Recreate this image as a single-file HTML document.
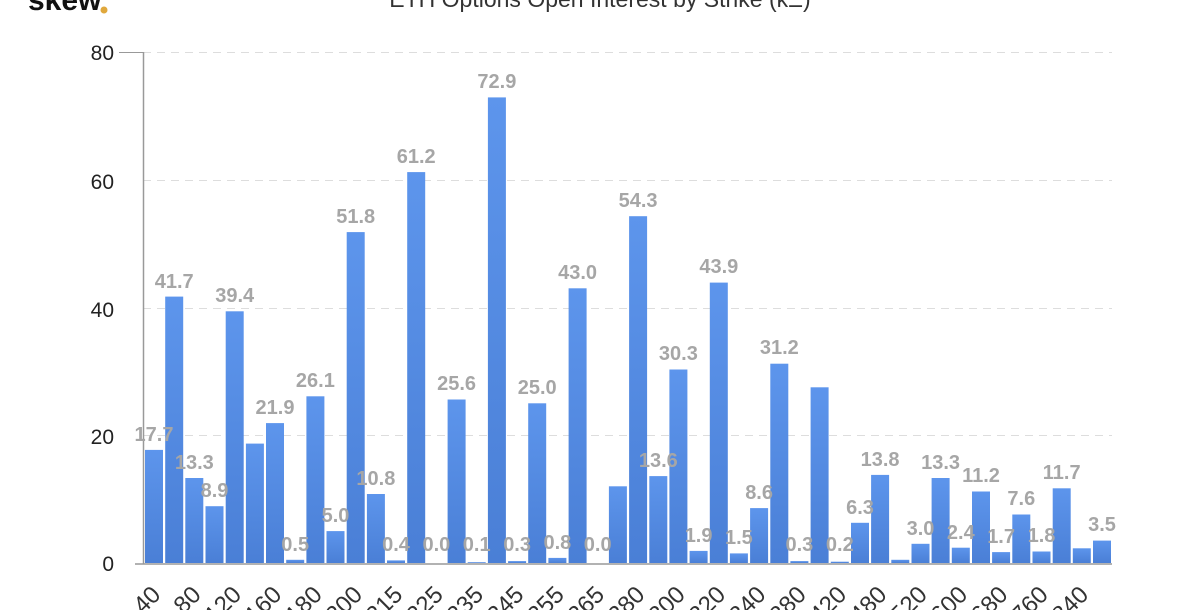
<!DOCTYPE html>
<html><head><meta charset="utf-8"><style>
html,body{margin:0;padding:0;background:#fff;width:1200px;height:610px;overflow:hidden}
svg{display:block;font-family:"Liberation Sans",sans-serif}
</style></head><body>
<svg width="1200" height="610" viewBox="0 0 1200 610">
<defs><linearGradient id="g" x1="0" y1="0" x2="0" y2="1"><stop offset="0" stop-color="#5d95ec"/><stop offset="1" stop-color="#4a7fd6"/></linearGradient></defs>
<text x="28" y="10" font-size="30" font-weight="bold" fill="#111">skew</text><circle cx="104" cy="10" r="3.5" fill="#e0a83c"/>
<text x="600" y="7" font-size="23" fill="#333" text-anchor="middle">ETH Options Open Interest by Strike (kΞ)</text>
<g stroke="#ddd" stroke-dasharray="8,6" stroke-width="1">
<line x1="143" x2="1112" y1="52.5" y2="52.5"/><line x1="143" x2="1112" y1="180.5" y2="180.5"/><line x1="143" x2="1112" y1="308.5" y2="308.5"/><line x1="143" x2="1112" y1="435.5" y2="435.5"/>
</g>
<g font-size="21" fill="#222" text-anchor="end">
<text x="114" y="60">80</text><text x="114" y="189">60</text><text x="114" y="317">40</text><text x="114" y="444">20</text><text x="114" y="571">0</text>
</g>
<line x1="143.5" y1="52" x2="143.5" y2="564" stroke="#999" stroke-width="1.5"/>
<line x1="119" y1="52.5" x2="143" y2="52.5" stroke="#999"/>
<line x1="135" y1="564" x2="1112" y2="564" stroke="#999" stroke-width="1.5"/>
<g fill="url(#g)">
<rect x="145" y="449.9" width="18" height="113.1"/><rect x="165.2" y="296.6" width="18" height="266.4"/><rect x="185.3" y="478" width="18" height="85"/><rect x="205.5" y="506.2" width="18" height="56.8"/><rect x="225.7" y="311.3" width="18" height="251.7"/><rect x="245.9" y="443.6" width="18" height="119.4"/><rect x="266" y="423.1" width="18" height="139.9"/><rect x="286.2" y="559.8" width="18" height="3.2"/><rect x="306.4" y="396.3" width="18" height="166.7"/><rect x="326.5" y="531.1" width="18" height="31.9"/><rect x="346.7" y="232.1" width="18" height="330.9"/><rect x="366.9" y="494" width="18" height="69"/><rect x="387" y="560.4" width="18" height="2.6"/><rect x="407.2" y="172.1" width="18" height="390.9"/><rect x="447.6" y="399.5" width="18" height="163.5"/><rect x="467.7" y="562.2" width="18" height="0.8"/><rect x="487.9" y="97.4" width="18" height="465.6"/><rect x="508.1" y="561.1" width="18" height="1.9"/><rect x="528.2" y="403.3" width="18" height="159.7"/><rect x="548.4" y="557.9" width="18" height="5.1"/><rect x="568.6" y="288.3" width="18" height="274.7"/><rect x="608.9" y="486.3" width="18" height="76.7"/><rect x="629.1" y="216.2" width="18" height="346.8"/><rect x="649.3" y="476.1" width="18" height="86.9"/><rect x="669.4" y="369.5" width="18" height="193.5"/><rect x="689.6" y="550.9" width="18" height="12.1"/><rect x="709.8" y="282.6" width="18" height="280.4"/><rect x="729.9" y="553.4" width="18" height="9.6"/><rect x="750.1" y="508.1" width="18" height="54.9"/><rect x="770.3" y="363.7" width="18" height="199.3"/><rect x="790.4" y="561.1" width="18" height="1.9"/><rect x="810.6" y="387.3" width="18" height="175.7"/><rect x="830.8" y="561.7" width="18" height="1.3"/><rect x="851" y="522.8" width="18" height="40.2"/><rect x="871.1" y="474.9" width="18" height="88.1"/><rect x="891.3" y="559.8" width="18" height="3.2"/><rect x="911.5" y="543.8" width="18" height="19.2"/><rect x="931.6" y="478" width="18" height="85"/><rect x="951.8" y="547.7" width="18" height="15.3"/><rect x="972" y="491.5" width="18" height="71.5"/><rect x="992.1" y="552.1" width="18" height="10.9"/><rect x="1012.3" y="514.5" width="18" height="48.5"/><rect x="1032.5" y="551.5" width="18" height="11.5"/><rect x="1052.7" y="488.3" width="18" height="74.7"/><rect x="1072.8" y="548.3" width="18" height="14.7"/><rect x="1093" y="540.6" width="18" height="22.4"/>
</g>
<g font-size="20" font-weight="bold" fill="#a6a6a6" text-anchor="middle">
<text x="154" y="441">17.7</text><text x="174.2" y="288">41.7</text><text x="194.3" y="469">13.3</text><text x="214.5" y="497">8.9</text><text x="234.7" y="302">39.4</text><text x="275" y="414">21.9</text><text x="295.2" y="551">0.5</text><text x="315.4" y="387">26.1</text><text x="335.5" y="522">5.0</text><text x="355.7" y="223">51.8</text><text x="375.9" y="485">10.8</text><text x="396" y="551">0.4</text><text x="416.2" y="163">61.2</text><text x="436.4" y="551">0.0</text><text x="456.6" y="390">25.6</text><text x="476.7" y="551">0.1</text><text x="496.9" y="88">72.9</text><text x="517.1" y="551">0.3</text><text x="537.2" y="394">25.0</text><text x="557.4" y="549">0.8</text><text x="577.6" y="279">43.0</text><text x="597.7" y="551">0.0</text><text x="638.1" y="207">54.3</text><text x="658.3" y="467">13.6</text><text x="678.4" y="360">30.3</text><text x="698.6" y="542">1.9</text><text x="718.8" y="273">43.9</text><text x="738.9" y="544">1.5</text><text x="759.1" y="499">8.6</text><text x="779.3" y="354">31.2</text><text x="799.4" y="551">0.3</text><text x="839.8" y="551">0.2</text><text x="860" y="514">6.3</text><text x="880.1" y="466">13.8</text><text x="920.5" y="535">3.0</text><text x="940.6" y="469">13.3</text><text x="960.8" y="539">2.4</text><text x="981" y="482">11.2</text><text x="1001.1" y="543">1.7</text><text x="1021.3" y="505">7.6</text><text x="1041.5" y="542">1.8</text><text x="1061.7" y="479">11.7</text><text x="1102" y="531">3.5</text>
</g>
<g font-size="24" fill="#333" text-anchor="end">
<text transform="translate(162,596) rotate(-45)">40</text><text transform="translate(202.3,596) rotate(-45)">80</text><text transform="translate(242.7,596) rotate(-45)">120</text><text transform="translate(283,596) rotate(-45)">160</text><text transform="translate(323.4,596) rotate(-45)">180</text><text transform="translate(363.7,596) rotate(-45)">200</text><text transform="translate(404,596) rotate(-45)">215</text><text transform="translate(444.4,596) rotate(-45)">225</text><text transform="translate(484.7,596) rotate(-45)">235</text><text transform="translate(525.1,596) rotate(-45)">245</text><text transform="translate(565.4,596) rotate(-45)">255</text><text transform="translate(605.7,596) rotate(-45)">265</text><text transform="translate(646.1,596) rotate(-45)">280</text><text transform="translate(686.4,596) rotate(-45)">300</text><text transform="translate(726.8,596) rotate(-45)">320</text><text transform="translate(767.1,596) rotate(-45)">340</text><text transform="translate(807.4,596) rotate(-45)">380</text><text transform="translate(847.8,596) rotate(-45)">420</text><text transform="translate(888.1,596) rotate(-45)">480</text><text transform="translate(928.5,596) rotate(-45)">520</text><text transform="translate(968.8,596) rotate(-45)">600</text><text transform="translate(1009.1,596) rotate(-45)">680</text><text transform="translate(1049.5,596) rotate(-45)">760</text><text transform="translate(1089.8,596) rotate(-45)">840</text>
</g>
</svg>
</body></html>
